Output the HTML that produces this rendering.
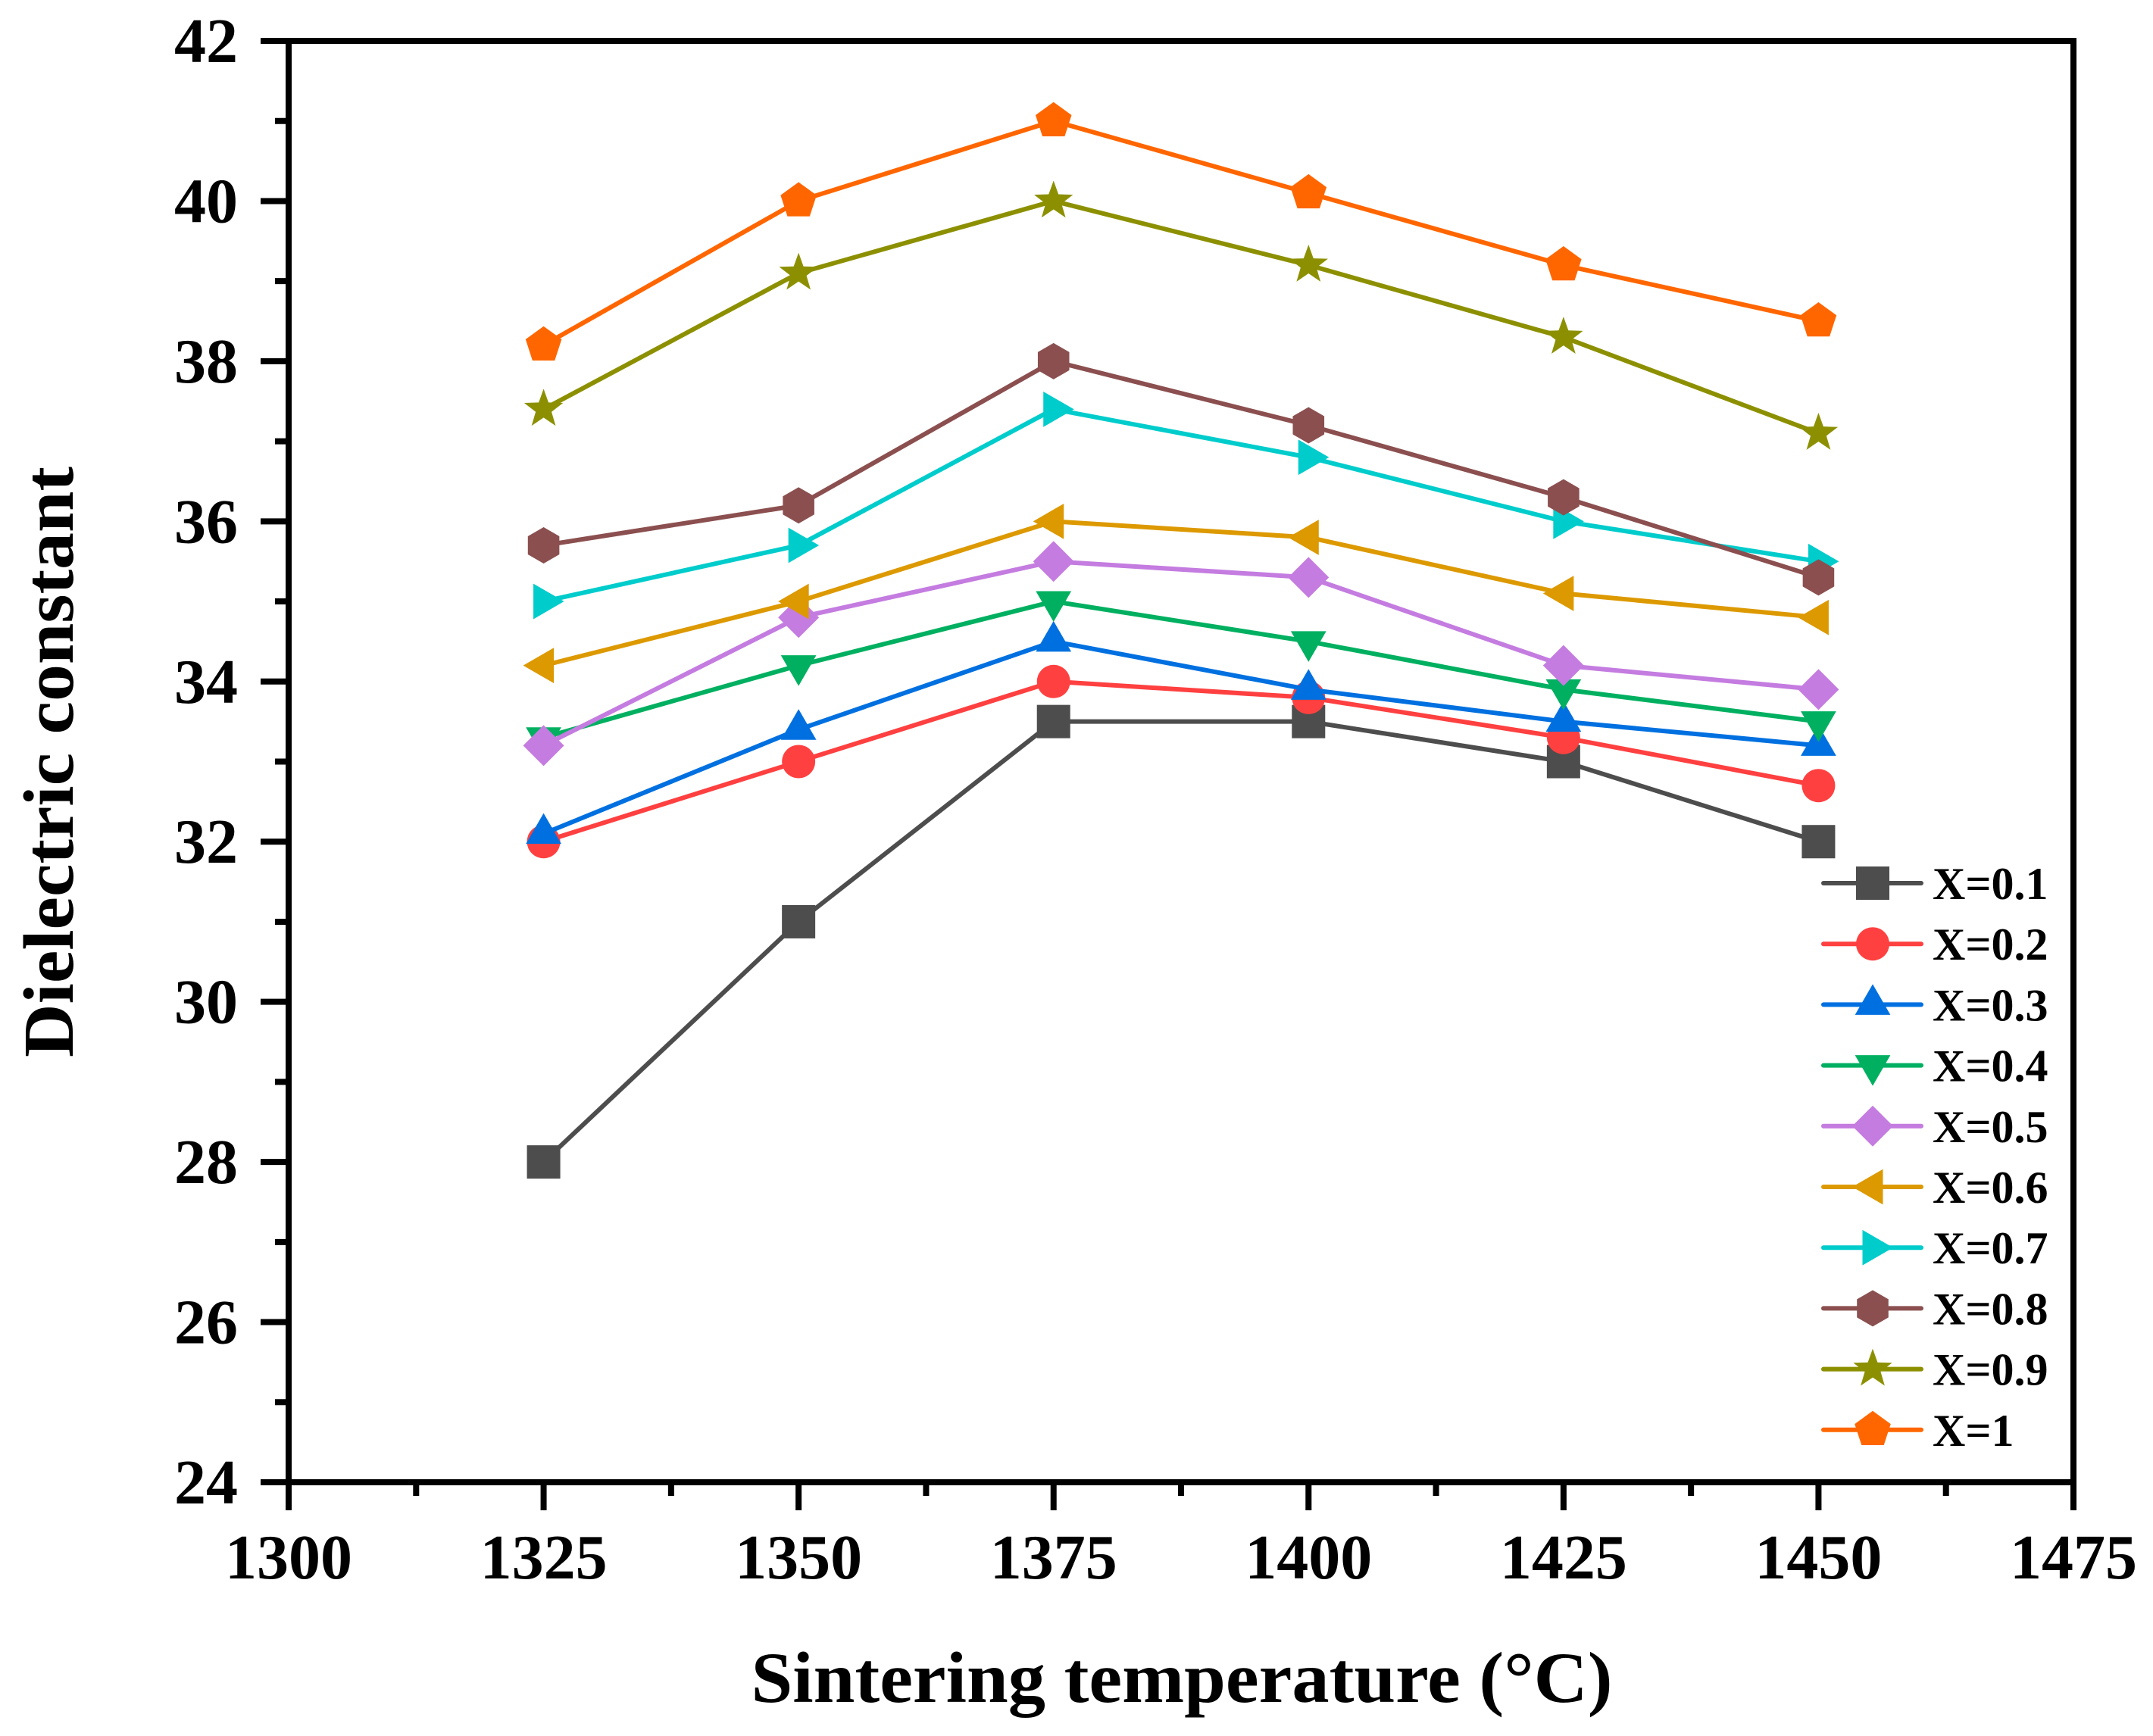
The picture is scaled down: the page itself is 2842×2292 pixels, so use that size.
<!DOCTYPE html>
<html><head><meta charset="utf-8">
<style>html,body{margin:0;padding:0;background:#fff}svg{display:block}text{font-family:"Liberation Serif",serif;font-weight:bold;fill:#000}</style>
</head><body>
<svg id="chart" width="2842" height="2292" viewBox="0 0 2842 2292" xmlns="http://www.w3.org/2000/svg">
<rect width="2842" height="2292" fill="#fff"/>
<g id="plot"></g>
<text x="0" y="0" font-size="94" text-anchor="middle" transform="translate(96,1006) rotate(-90)" textLength="780" lengthAdjust="spacingAndGlyphs">Dielectric constant</text>
<text x="1560" y="2247" font-size="95" text-anchor="middle" textLength="1137" lengthAdjust="spacingAndGlyphs">Sintering temperature (°C)</text>
</svg>
<script>
const temps=[1325,1350,1375,1400,1425,1450];
const seriesNames=["X=0.1","X=0.2","X=0.3","X=0.4","X=0.5","X=0.6","X=0.7","X=0.8","X=0.9","X=1"];
const s01=[28,31,33.5,33.5,33,32];
const s02=[32,33,34,33.8,33.3,32.7];
const s03=[32.1,33.4,34.5,33.9,33.5,33.2];
const s04=[33.3,34.2,35,34.5,33.9,33.5];
const s05=[33.2,34.8,35.5,35.3,34.2,33.9];
const s06=[34.2,35,36,35.8,35.1,34.8];
const s07=[35,35.7,37.4,36.8,36,35.5];
const s08=[35.7,36.2,38,37.2,36.3,35.3];
const s09=[37.4,39.1,40,39.2,38.3,37.1];
const s10=[38.2,40,41,40.1,39.2,38.5];
const xTicks=[1300,1325,1350,1375,1400,1425,1450,1475];
const yTicks=[24,26,28,30,32,34,36,38,40,42];

const allSeries=[s01,s02,s03,s04,s05,s06,s07,s08,s09,s10];
const colors=["#4d4d4d","#ff4040","#0070e0","#00b060","#c47ce0","#dd9900","#00cccc","#8b4f4f","#8c9000","#ff6600"];
const shapes=["square","circle","up","down","diamond","left","right","hex","star","pent"];
const L=381,R=2737,T=54,B=1957,xMin=1300,xMax=1475,yMin=24,yMax=42;
const xs=v=>L+(v-xMin)/(xMax-xMin)*(R-L);
const ys=v=>B-(v-yMin)/(yMax-yMin)*(B-T);
const NS="http://www.w3.org/2000/svg";
const g=document.getElementById('plot');
function mk(tag,attrs,parent){const e=document.createElementNS(NS,tag);for(const k in attrs)e.setAttribute(k,attrs[k]);(parent||g).appendChild(e);return e;}

function marker(shape,cx,cy,color,parent){
  const r=22;let e;
  if(shape==="square"){e=mk('rect',{x:cx-r,y:cy-r,width:2*r,height:2*r,fill:color},parent);}
  else if(shape==="circle"){e=mk('circle',{cx:cx,cy:cy,r:r,fill:color},parent);}
  else{
    let pts=[];
    const poly=(n,rad,rot)=>{for(let i=0;i<n;i++){const a=rot+i*2*Math.PI/n;pts.push([cx+rad*Math.cos(a),cy+rad*Math.sin(a)]);}};
    if(shape==="up")poly(3,27,-Math.PI/2);
    else if(shape==="down")poly(3,27,Math.PI/2);
    else if(shape==="left")poly(3,27,Math.PI);
    else if(shape==="right")poly(3,27,0);
    else if(shape==="diamond")pts=[[cx,cy-27],[cx+27,cy],[cx,cy+27],[cx-27,cy]];
    else if(shape==="hex")poly(6,24,-Math.PI/2);
    else if(shape==="pent")poly(5,25,-Math.PI/2);
    else if(shape==="star"){for(let i=0;i<10;i++){const a=-Math.PI/2+i*Math.PI/5;const rad=i%2?11:27;pts.push([cx+rad*Math.cos(a),cy+rad*Math.sin(a)]);}}
    e=mk('polygon',{points:pts.map(p=>p.join(',')).join(' '),fill:color},parent);
  }
  return e;
}

const frame=mk('rect',{x:L,y:T,width:R-L,height:B-T,fill:'none',stroke:'#000','stroke-width':8});



yTicks.forEach((v,i)=>{
  const y=ys(v);
  const t=mk('line',{x1:L-37,x2:L,y1:y,y2:y,stroke:'#000','stroke-width':8});
  
  
  if(i<yTicks.length-1){
    const ym=ys(v+1);
    const m=mk('line',{x1:L-18,x2:L,y1:ym,y2:ym,stroke:'#000','stroke-width':8});
    
    
  }
  const lb=mk('text',{x:L-67,y:y+28,'font-size':84,'text-anchor':'end'});
  lb.textContent=v;
  
  
});
xTicks.forEach((v,i)=>{
  const x=xs(v);
  const t=mk('line',{x1:x,x2:x,y1:B,y2:B+37,stroke:'#000','stroke-width':8});
  
  
  if(i<xTicks.length-1){
    const xm=xs(v+12.5);
    const m=mk('line',{x1:xm,x2:xm,y1:B,y2:B+18,stroke:'#000','stroke-width':8});
    
    
  }
  const lb=mk('text',{x:x,y:2084,'font-size':84,'text-anchor':'middle'});
  lb.textContent=v;
  
  
});

allSeries.forEach((vals,si)=>{
  const sg=mk('g',{});
  
  
  const pts=vals.map((v,i)=>xs(temps[i])+','+ys(v)).join(' ');
  const pl=mk('polyline',{points:pts,fill:'none',stroke:colors[si],'stroke-width':6,'stroke-linejoin':'round'},sg);
  
  
  vals.forEach((v,i)=>{
    const m=marker(shapes[si],xs(temps[i]),ys(v),colors[si],sg);
    
    
  });
});

const lg=mk('g',{});


seriesNames.forEach((nm,i)=>{
  const y=1166+i*80.2;
  const eg=mk('g',{},lg);
  
  
  mk('line',{x1:2407,x2:2536,y1:y,y2:y,stroke:colors[i],'stroke-width':6,'stroke-linecap':'round'},eg);
  marker(shapes[i],2472,y,colors[i],eg);
  const t=mk('text',{x:2551,y:y+21,'font-size':60},eg);
  t.textContent=nm;
});
</script>
</body></html>
